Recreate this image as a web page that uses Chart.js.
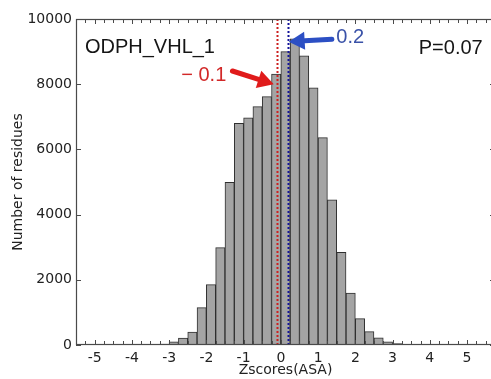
<!DOCTYPE html>
<html>
<head>
<meta charset="utf-8">
<script src="https://cdn.jsdelivr.net/npm/chart.js@4.4.0/dist/chart.umd.min.js"></script>
<style>
  html, body { margin: 0; padding: 0; background: #fff; overflow: hidden; }
  #wrap { width: 491px; height: 379px; overflow: hidden; }
</style>
</head>
<body>
<div id="wrap"><canvas id="histo" width="495" height="379"></canvas></div>
<script>
// histogram bins (width 0.25), centres and counts
const binCenters = [-3.125, -2.875, -2.625, -2.375, -2.125, -1.875, -1.625, -1.375, -1.125, -0.875,
                    -0.625, -0.375, -0.125, 0.125, 0.375, 0.625, 0.875, 1.125, 1.375, 1.625,
                    1.875, 2.125, 2.375, 2.625, 2.875, 3.125, 3.375];
const counts = [30, 95, 215, 400, 1145, 1850, 2985, 4990, 6800, 6970,
                7310, 7620, 8310, 9000, 9390, 8870, 7890, 6360, 4450, 2845,
                1590, 810, 409, 220, 95, 45, 15];
const xTickValues = [-5, -4, -3, -2, -1, 0, 1, 2, 3, 4, 5];
const yTickValues = [0, 2000, 4000, 6000, 8000, 10000];
const markerValues = [-0.1, 0.2];          // red, blue dotted lines
const markerLabels = ['\u2212 0.1', '0.2'];
const panelName = 'ODPH_VHL_1';
const pValue = 'P=0.07';

const textFont = '"Liberation Sans", Arial, sans-serif';

// annotation placement, in data units
const notes = [
  { text: panelName, x: -5.26, y: 9140, align: 'left', color: '#151515', size: 20 },
  { text: pValue, x: 5.42, y: 9110, align: 'right', color: '#151515', size: 20 },
  { text: markerLabels[0], x: -2.07, y: 8280, align: 'center', color: '#d22828', size: 20 },
  { text: markerLabels[1], x: 1.49, y: 9430, align: 'left', color: '#3a52a8', size: 20 }
];
const arrows = [
  { from: [-1.30, 8405], to: [-0.19, 8000], color: '#e01b1b' },
  { from: [1.37, 9380], to: [0.21, 9300], color: '#2c4fc4' }
];

function drawArrow(c, x0, y0, x1, y1, color) {
  const ang = Math.atan2(y1 - y0, x1 - x0);
  const headLen = 16, headW = 9;
  const bx = x1 - headLen * Math.cos(ang), by = y1 - headLen * Math.sin(ang);
  c.save();
  c.strokeStyle = color;
  c.fillStyle = color;
  c.lineWidth = 5;
  c.lineCap = 'round';
  c.beginPath();
  c.moveTo(x0, y0);
  c.lineTo(bx, by);
  c.stroke();
  c.beginPath();
  c.moveTo(x1, y1);
  c.lineTo(bx + headW * Math.sin(ang), by - headW * Math.cos(ang));
  c.lineTo(bx - headW * Math.sin(ang), by + headW * Math.cos(ang));
  c.closePath();
  c.fill();
  c.restore();
}

const extras = {
  id: 'extras',
  afterDatasetsDraw(chart) {
    const c = chart.ctx;
    const { left, right, top, bottom } = chart.chartArea;
    const xs = chart.scales.x, ys = chart.scales.y;

    // dotted marker lines
    const lineColors = ['#cc2020', '#14149a'];
    markerValues.forEach((v, i) => {
      const px = Math.round(xs.getPixelForValue(v)) + 0.5;
      c.save();
      c.strokeStyle = lineColors[i];
      c.lineWidth = 2;
      c.setLineDash([2, 2]);
      c.beginPath();
      c.moveTo(px, top);
      c.lineTo(px, bottom);
      c.stroke();
      c.restore();
    });

    // frame
    c.save();
    c.strokeStyle = '#4a4a4a';
    c.lineWidth = 1.2;
    c.strokeRect(left + 0.5, top + 0.5, right - left - 1, bottom - top - 1);

    // inward ticks, matplotlib style
    c.lineWidth = 1;
    for (let v = -5.5; v <= 5.75 + 1e-9; v += 0.25) {
      const px = Math.round(xs.getPixelForValue(v)) + 0.5;
      const len = Number.isInteger(v) ? 5 : 4;
      c.beginPath();
      c.moveTo(px, bottom); c.lineTo(px, bottom - len);
      c.moveTo(px, top); c.lineTo(px, top + len);
      c.stroke();
    }
    yTickValues.forEach(v => {
      const py = Math.round(ys.getPixelForValue(v)) + 0.5;
      c.beginPath();
      c.moveTo(left, py); c.lineTo(left + 5, py);
      c.moveTo(right, py); c.lineTo(right - 5, py);
      c.stroke();
    });
    c.restore();

    arrows.forEach(a => drawArrow(c,
      xs.getPixelForValue(a.from[0]), ys.getPixelForValue(a.from[1]),
      xs.getPixelForValue(a.to[0]), ys.getPixelForValue(a.to[1]), a.color));

    notes.forEach(n => {
      c.save();
      c.font = n.size + 'px ' + textFont;
      c.fillStyle = n.color;
      c.textAlign = n.align;
      c.textBaseline = 'middle';
      c.fillText(n.text, xs.getPixelForValue(n.x), ys.getPixelForValue(n.y));
      c.restore();
    });
  }
};

const ctx = document.getElementById('histo').getContext('2d');
new Chart(ctx, {
  type: 'bar',
  data: {
    datasets: [{
      data: binCenters.map((x, i) => ({ x: x, y: counts[i] })),
      backgroundColor: '#a4a4a4',
      borderColor: '#2f2f2f',
      borderWidth: { top: 1, left: 1, right: 1, bottom: 0 },
      barPercentage: 1,
      categoryPercentage: 1
    }]
  },
  options: {
    responsive: false,
    animation: false,
    devicePixelRatio: 1,
    layout: { padding: { top: 19, right: 0, bottom: 0, left: 0 } },
    plugins: { legend: { display: false }, tooltip: { enabled: false } },
    scales: {
      x: {
        type: 'linear',
        offset: false,
        min: -5.5,
        max: 5.75,
        grid: { display: false, drawTicks: false },
        border: { display: false },
        afterBuildTicks: s => { s.ticks = xTickValues.map(v => ({ value: v })); },
        afterFit: s => { s.height = 34; },
        ticks: { color: '#222', padding: 5, font: { family: 'DejaVu Sans', size: 14 },
                 callback: v => String(v) },
        title: {
          display: true, text: 'Zscores(ASA)', color: '#222',
          padding: { top: 0, bottom: 0 },
          font: { family: 'DejaVu Sans', size: 14 }
        }
      },
      y: {
        min: 0,
        max: 10000,
        grid: { display: false, drawTicks: false },
        border: { display: false },
        afterBuildTicks: s => { s.ticks = yTickValues.map(v => ({ value: v })); },
        afterFit: s => { s.width = 76; },
        ticks: { color: '#222', padding: 4, font: { family: 'DejaVu Sans', size: 14 },
                 callback: v => String(v) },
        title: {
          display: true, text: 'Number of residues', color: '#222',
          padding: { top: 10, bottom: 0 },
          font: { family: 'DejaVu Sans', size: 14 }
        }
      }
    }
  },
  plugins: [extras]
});
</script>
</body>
</html>
